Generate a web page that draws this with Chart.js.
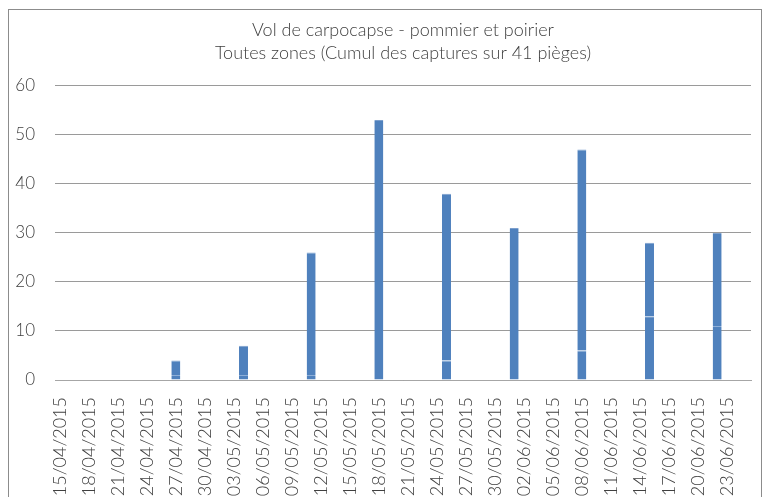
<!DOCTYPE html>
<html lang="fr">
<head>
<meta charset="utf-8">
<title>Vol de carpocapse</title>
<script src="https://cdn.jsdelivr.net/npm/chart.js@4.4.1/dist/chart.umd.min.js"></script>
<style>
  html, body { margin: 0; padding: 0; background: #fff; overflow: hidden; }
  #chart { position: absolute; left: 0; top: 0; }
  #frame { position: absolute; left: 8px; top: 9px; width: 752px; height: 560px; border: 1px solid #8c8c8c; pointer-events: none; }
</style>
</head>
<body>
<canvas id="chart" width="768" height="520"></canvas>
<div id="frame"></div>
<script>
// Daily axis, one label every 3 days
const firstDay = '15/04/2015';
const lastDay = '25/06/2015';
const tickStep = 3;

// Weekly trap readings (two stacked parts of the same bar)
const captureDates = ['27/04/2015', '04/05/2015', '11/05/2015', '18/05/2015', '25/05/2015', '01/06/2015', '08/06/2015', '15/06/2015', '22/06/2015'];
const lowerCaptures = [1, 1, 1, 0, 4, 0, 6, 13, 11];
const upperCaptures = [3, 6, 25, 53, 34, 31, 41, 15, 19];

const yTicks = [0, 10, 20, 30, 40, 50, 60];
const titleLines = ['Vol de carpocapse - pommier et poirier', 'Toutes zones (Cumul des captures sur 41 pièges)'];

const DAY = 86400000;
const parseDay = s => {
  const [d, m, y] = s.split('/').map(Number);
  return Date.UTC(y, m - 1, d);
};
const formatDay = t => {
  const d = new Date(t);
  return String(d.getUTCDate()).padStart(2, '0') + '/' + String(d.getUTCMonth() + 1).padStart(2, '0') + '/' + d.getUTCFullYear();
};

const days = [];
for (let t = parseDay(firstDay); t <= parseDay(lastDay); t += DAY) days.push(formatDay(t));

const onDays = values => days.map(day => {
  const i = captureDates.indexOf(day);
  return i < 0 || !values[i] ? null : values[i];
});

const textColor = '#404040';

new Chart(document.getElementById('chart'), {
  type: 'bar',
  data: {
    labels: days,
    datasets: [
      {
        label: 'bas',
        data: onDays(lowerCaptures),
        backgroundColor: '#4f81bd',
        borderColor: '#8eafd8',
        borderWidth: { top: 1, left: 0, right: 0, bottom: 0 },
        borderSkipped: false,
      },
      {
        label: 'haut',
        data: onDays(upperCaptures),
        backgroundColor: '#4f81bd',
        borderColor: '#7b9fcd',
        borderWidth: { top: 1, left: 0, right: 0, bottom: 0 },
        borderSkipped: false,
      },
    ],
  },
  options: {
    responsive: false,
    animation: false,
    devicePixelRatio: 1,
    layout: { padding: { left: 15, right: 17, top: 0, bottom: 10 } },
    datasets: { bar: { categoryPercentage: 1, barPercentage: 0.93 } },
    plugins: {
      legend: { display: false },
      tooltip: { enabled: false },
      title: {
        display: true,
        text: titleLines,
        fullSize: false,
        color: textColor,
        font: { family: 'Lato', weight: 300, size: 18, lineHeight: 1.3 },
        padding: { top: 18, bottom: 21 },
      },
    },
    scales: {
      x: {
        stacked: true,
        grid: { display: false },
        border: { color: '#a6a6a6', width: 1 },
        ticks: {
          autoSkip: false,
          maxRotation: 90,
          minRotation: 90,
          padding: 9,
          color: textColor,
          font: { family: 'Lato', weight: 300, size: 18 },
          callback(value, index) {
            return index % tickStep === 0 ? this.getLabelForValue(value) : '';
          },
        },
        afterFit: s => {
          s.height = 130;
          s.paddingLeft = 0;
          s.paddingRight = 0;
        },
      },
      y: {
        stacked: true,
        min: yTicks[0],
        max: yTicks[yTicks.length - 1],
        border: { display: false },
        grid: { color: '#9a9a9a', drawTicks: false },
        ticks: { padding: 20, color: textColor, font: { family: 'Lato', weight: 300, size: 17 } },
        afterBuildTicks: s => { s.ticks = yTicks.map(v => ({ value: v })); },
        afterFit: s => { s.width = 40; },
      },
    },
  },
});
</script>
</body>
</html>
